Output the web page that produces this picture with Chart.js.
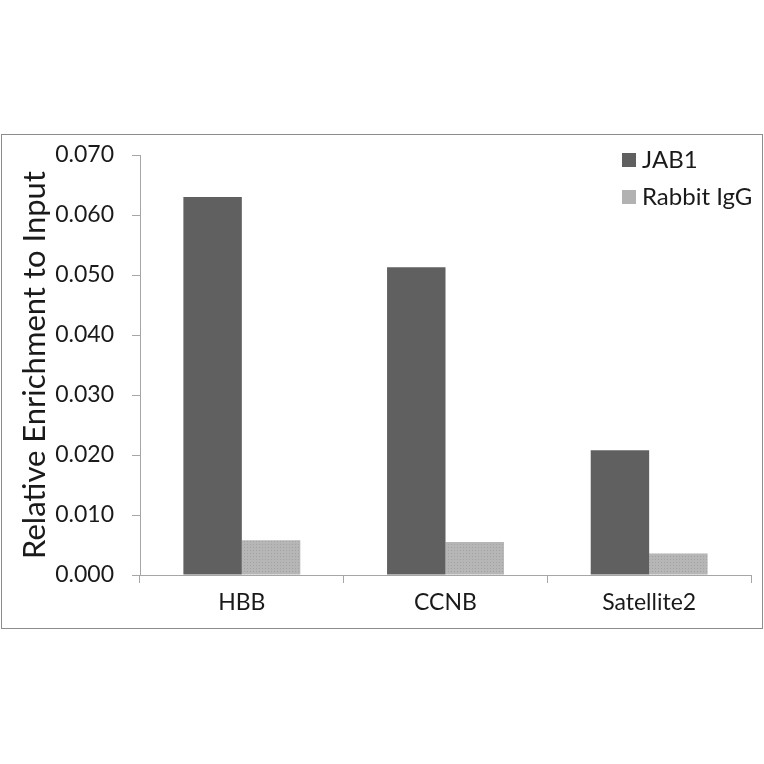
<!DOCTYPE html>
<html>
<head>
<meta charset="utf-8">
<script src="https://cdn.jsdelivr.net/npm/chart.js@4.4.0/dist/chart.umd.min.js"></script>
<style>
html,body{margin:0;padding:0;background:#fff;}
#wrap{width:764px;height:764px;position:relative;}
</style>
</head>
<body>
<div id="wrap"><canvas id="c" width="764" height="764"></canvas></div>
<script>
const categories = ["HBB", "CCNB", "Satellite2"];
const seriesNames = ["JAB1", "Rabbit IgG"];
const jab1Values = [0.0630, 0.0513, 0.0208];
const iggValues = [0.0058, 0.0055, 0.0036];
const yTickMax = 0.07;
const yTickStep = 0.01;

const FONT = "Lato, 'Open Sans', sans-serif";

function makePattern() {
  const p = document.createElement('canvas');
  p.width = 3; p.height = 3;
  const g = p.getContext('2d');
  g.fillStyle = '#b6b6b6';
  g.fillRect(0, 0, 3, 3);
  g.fillStyle = '#a2a2a2';
  g.fillRect(1, 1, 1, 1);
  return g.createPattern(p, 'repeat');
}
const ctx = document.getElementById('c').getContext('2d');
const iggFill = makePattern();
const jabColor = '#606060';
const iggLegend = '#b2b2b2';

const framePlugin = {
  id: 'frame',
  beforeDraw(chart) {
    const c = chart.ctx;
    c.save();
    c.fillStyle = '#ffffff';
    c.fillRect(0, 0, chart.width, chart.height);
    c.strokeStyle = '#8c8c8c';
    c.lineWidth = 1;
    c.strokeRect(1.5, 134.5, 761, 494);
    c.restore();
  },
  afterDraw(chart) {
    const c = chart.ctx;
    c.save();
    const items = [
      { label: seriesNames[0], color: jabColor, y: 160 },
      { label: seriesNames[1], color: iggLegend, y: 197 }
    ];
    c.font = "24px " + FONT;
    c.textBaseline = 'middle';
    c.textAlign = 'left';
    items.forEach(it => {
      c.fillStyle = it.color;
      c.fillRect(622, it.y - 7, 14, 14);
      c.fillStyle = '#1a1a1a';
      c.fillText(it.label, 642, it.y);
    });
    c.restore();
  }
};

new Chart(ctx, {
  type: 'bar',
  data: {
    labels: categories,
    datasets: [
      { label: seriesNames[0], data: jab1Values, backgroundColor: jabColor, borderWidth: 0 },
      { label: seriesNames[1], data: iggValues, backgroundColor: iggFill, borderWidth: 0 }
    ]
  },
  options: {
    responsive: false,
    animation: false,
    devicePixelRatio: 1,
    layout: { padding: { left: 0, top: 155, right: 13, bottom: 135 } },
    datasets: { bar: { categoryPercentage: 0.574, barPercentage: 1.0 } },
    plugins: { legend: { display: false }, tooltip: { enabled: false } },
    scales: {
      x: {
        grid: { display: true, drawOnChartArea: false, drawTicks: true, tickLength: 8, color: '#a6a6a6', offset: true },
        border: { display: true, color: '#a6a6a6', width: 1 },
        ticks: { color: '#1a1a1a', font: { family: FONT, size: 23 }, padding: 6 },
        afterFit(scale) { scale.height = 54; }
      },
      y: {
        min: 0,
        max: yTickMax,
        grid: { display: true, drawOnChartArea: false, drawTicks: true, tickLength: 8, color: '#a6a6a6' },
        border: { display: true, color: '#a6a6a6', width: 1 },
        ticks: {
          stepSize: yTickStep,
          color: '#1a1a1a',
          font: { family: FONT, size: 23 },
          padding: 18,
          callback: v => Number(v).toFixed(3)
        },
        title: {
          display: true,
          text: 'Relative Enrichment to Input',
          color: '#1a1a1a',
          font: { family: FONT, size: 31 },
          padding: { top: 16, bottom: 0 }
        },
        afterFit(scale) { scale.width = 140; }
      }
    }
  },
  plugins: [framePlugin]
});
</script>
</body>
</html>
